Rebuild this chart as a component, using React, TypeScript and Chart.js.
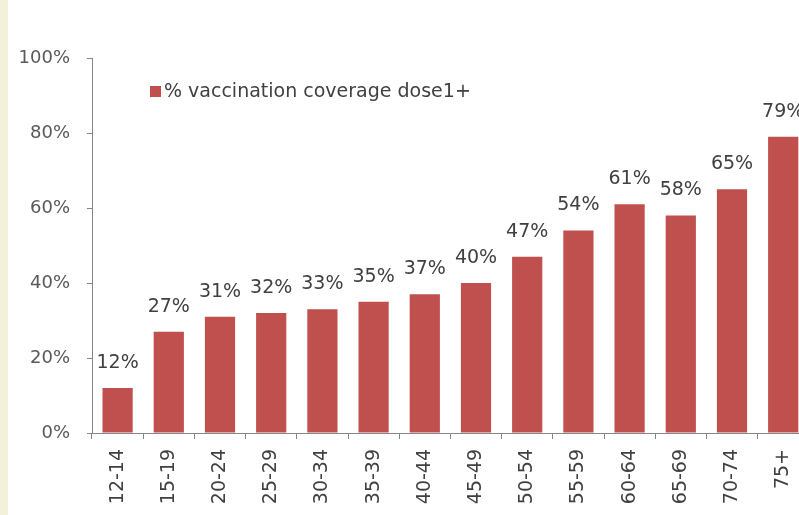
import React, { useEffect, useRef } from "react";
import { Chart, registerables } from "chart.js";

Chart.register(...registerables);

const categories = ["12-14", "15-19", "20-24", "25-29", "30-34", "35-39", "40-44", "45-49", "50-54", "55-59", "60-64", "65-69", "70-74", "75+"];
const coverage = [12, 27, 31, 32, 33, 35, 37, 40, 47, 54, 61, 58, 65, 79];
const yTicks = [0, 20, 40, 60, 80, 100];
const seriesLabel = "% vaccination coverage dose1+";

const FONT = "'DejaVu Sans', sans-serif";
const BAR = "#c0504d";
const AXIS = "#868686";

const labelPlugin = {
  id: "barLabelsAndLegend",
  afterDatasetsDraw(chart: any) {
    const ctx = chart.ctx;
    const meta = chart.getDatasetMeta(0);
    const data = chart.data.datasets[0].data as number[];
    ctx.save();
    ctx.font = `19px ${FONT}`;
    ctx.fillStyle = "#404040";
    ctx.textAlign = "center";
    ctx.textBaseline = "middle";
    meta.data.forEach((el: any, i: number) => {
      ctx.fillText(`${data[i]}%`, el.x, el.y - 25);
    });
    // legend inside plot area
    const ds = chart.data.datasets[0];
    const { left, top } = chart.chartArea;
    const sx = left + 58;
    const sy = top + 28;
    ctx.fillStyle = ds.backgroundColor;
    ctx.fillRect(sx, sy, 11, 11);
    ctx.font = `19px ${FONT}`;
    ctx.fillStyle = "#404040";
    ctx.textAlign = "left";
    ctx.textBaseline = "middle";
    ctx.fillText(ds.label, sx + 14, sy + 6);
    ctx.restore();
  },
};

export default function App() {
  const ref = useRef<HTMLCanvasElement>(null);
  useEffect(() => {
    if (!ref.current) return;
    const chart = new Chart(ref.current, {
      type: "bar",
      data: {
        labels: categories,
        datasets: [
          {
            label: seriesLabel,
            data: coverage,
            backgroundColor: BAR,
            barPercentage: 0.59,
            categoryPercentage: 1,
          },
        ],
      },
      options: {
        animation: false,
        responsive: false,
        devicePixelRatio: 1,
        layout: { padding: { top: 58, left: 0, right: 0, bottom: 0 } },
        plugins: { legend: { display: false }, tooltip: { enabled: false } },
        scales: {
          x: {
            type: "category",
            offset: true,
            grid: { display: true, offset: true, drawOnChartArea: false, drawTicks: true, tickLength: 6, color: AXIS },
            border: { display: true, color: AXIS, width: 1 },
            ticks: {
              autoSkip: false,
              maxRotation: 90,
              minRotation: 90,
              padding: 10,
              color: "#404040",
              font: { family: FONT, size: 19 },
            },
            afterFit(scale: any) {
              scale.height = 82;
            },
          },
          y: {
            min: 0,
            max: 100,
            grid: { display: true, drawOnChartArea: false, drawTicks: true, tickLength: 5, color: AXIS },
            border: { display: true, color: AXIS, width: 1 },
            afterBuildTicks(scale: any) {
              scale.ticks = yTicks.map((v) => ({ value: v }));
            },
            ticks: {
              padding: 17,
              color: "#595959",
              font: { family: FONT, size: 18 },
              callback: (v: any) => `${v}%`,
            },
            afterFit(scale: any) {
              scale.width = 92;
            },
          },
        },
      },
      plugins: [labelPlugin],
    });
    return () => chart.destroy();
  }, []);

  return (
    <div style={{ position: "fixed", left: 0, top: 0, width: 799, height: 515, overflow: "hidden", background: "#ffffff" }}>
      <div style={{ position: "absolute", left: 0, top: 0, width: 8, height: 515, background: "#f4f1da" }} />
      <canvas ref={ref} width={816} height={515} style={{ position: "absolute", left: 0, top: 0 }} />
    </div>
  );
}
